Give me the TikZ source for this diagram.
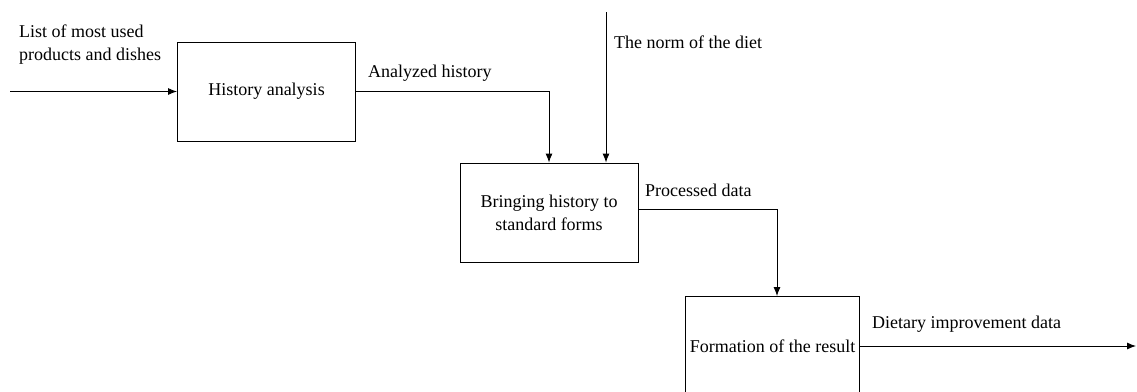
\documentclass[tikz,border=0pt]{standalone}
\usepackage{fontspec}
\setmainfont{Liberation Serif}
\usetikzlibrary{arrows.meta}
\begin{document}
\begin{tikzpicture}[x=1pt,y=-1pt,
  every node/.style={font=\fontsize{18}{23}\selectfont},
  func/.style={draw, line width=0.9pt, minimum width=178pt, minimum height=99pt, inner sep=2pt, align=center},
  flow/.style={line width=0.9pt, -{Latex[length=9pt,width=7pt]}},
  lbl/.style={inner sep=0pt, anchor=base west, align=left}]
\useasboundingbox (0,0) rectangle (1137,391);
\clip (0,0) rectangle (1137,391);

% activity boxes
\node[func] (hist) at (266.5,91.5) {History analysis};
\node[func] (std) at (549,212.5) {Bringing history to\\standard forms};
\node[func, minimum width=173.5pt] (res) at (772.5,346) {Formation of the result};

% free ends of boundary arrows
\coordinate (inp) at (10,91.5);
\coordinate (norm) at (606,12);
\coordinate (outp) at (1136,346);

% connectors
\draw[flow] (inp) -- (hist.west);
\draw[flow] (hist.east) -| (std.north);
\draw[flow] (norm) -- (norm |- std.north);
\draw[flow] ([yshift=3.5pt]std.east) -| ([xshift=4.5pt]res.north);
\draw[flow] (res.east) -- (outp);

% arrow labels
\node[lbl] (l1) at (19,37) {List of most used};
\node[lbl] (l1b) at (19,60) {products and dishes};
\node[lbl] (l2) at (368,77) {Analyzed history};
\node[lbl] (l3) at (614,48) {The norm of the diet};
\node[lbl] (l4) at (645,196) {Processed data};
\node[lbl] (l5) at (872,328) {Dietary improvement data};
\end{tikzpicture}
\end{document}
